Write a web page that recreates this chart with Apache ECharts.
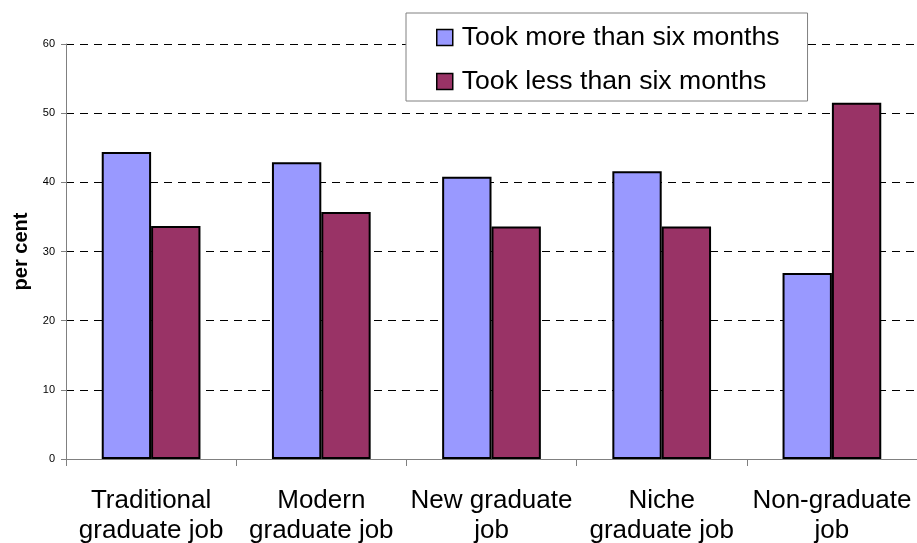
<!DOCTYPE html>
<html>
<head>
<meta charset="utf-8">
<script src="https://cdn.jsdelivr.net/npm/echarts@6/dist/echarts.min.js"></script>
<style>
  html, body { margin: 0; padding: 0; background: #fff; }
  #chart { width: 917px; height: 543px; }
</style>
</head>
<body>
<div id="chart"></div>
<script>
// Job type categories
const categories = [
  'Traditional\ngraduate job',
  'Modern\ngraduate job',
  'New graduate\njob',
  'Niche\ngraduate job',
  'Non-graduate\njob'
];
// Share of graduates (per cent) by time taken to find the job
const tookMoreThanSix = [44.4, 42.9, 40.8, 41.6, 26.9];
const tookLessThanSix = [33.7, 35.7, 33.6, 33.6, 51.5];
const seriesNames = ['Took more than six months', 'Took less than six months'];
const yTicks = { min: 0, max: 60, interval: 10 };

const font = 'Liberation Sans, Arial, sans-serif';
const chart = echarts.init(document.getElementById('chart'), null, { renderer: 'canvas' });

chart.setOption({
  animation: false,
  backgroundColor: '#fff',
  textStyle: { fontFamily: font },
  grid: { left: 66, right: 0, top: 44, bottom: 84, containLabel: false, outerBoundsMode: 'none' },
  legend: {
    orient: 'vertical',
    left: 406,
    top: 13,
    padding: [11, 28, 6, 30],
    itemGap: 17,
    itemWidth: 16,
    itemHeight: 16,
    icon: 'rect',
    backgroundColor: '#fff',
    borderColor: '#808080',
    borderWidth: 1,
    itemStyle: { borderColor: '#000', borderWidth: 1.5 },
    textStyle: { fontFamily: font, fontSize: 26.6, color: '#000', lineHeight: 27, padding: [0, 0, 0, 4] },
    data: seriesNames
  },
  xAxis: {
    type: 'category',
    data: categories,
    axisLine: { lineStyle: { color: '#808080', width: 1 } },
    axisTick: { show: true, length: 7, lineStyle: { color: '#808080' } },
    axisLabel: { fontFamily: font, fontSize: 26, color: '#000', lineHeight: 30, margin: 27, interval: 0 }
  },
  yAxis: {
    type: 'value',
    min: yTicks.min,
    max: yTicks.max,
    interval: yTicks.interval,
    name: 'per cent',
    nameLocation: 'middle',
    nameGap: 33,
    nameTextStyle: { fontFamily: font, fontSize: 20, fontWeight: 'bold', color: '#000' },
    axisLine: { show: true, lineStyle: { color: '#808080', width: 1 } },
    axisTick: { show: true, length: 5, lineStyle: { color: '#808080' } },
    axisLabel: { fontFamily: font, fontSize: 11, color: '#000', margin: 11 },
    splitLine: { show: true, lineStyle: { color: '#000', type: [8, 6], width: 1 } }
  },
  series: [
    {
      name: seriesNames[0],
      type: 'bar',
      data: tookMoreThanSix,
      barGap: '0%',
      barCategoryGap: '42%',
      itemStyle: { color: '#9999FF', borderColor: '#000', borderWidth: 2 }
    },
    {
      name: seriesNames[1],
      type: 'bar',
      data: tookLessThanSix,
      barGap: '0%',
      barCategoryGap: '42%',
      itemStyle: { color: '#993366', borderColor: '#000', borderWidth: 2 }
    }
  ]
});
</script>
</body>
</html>
